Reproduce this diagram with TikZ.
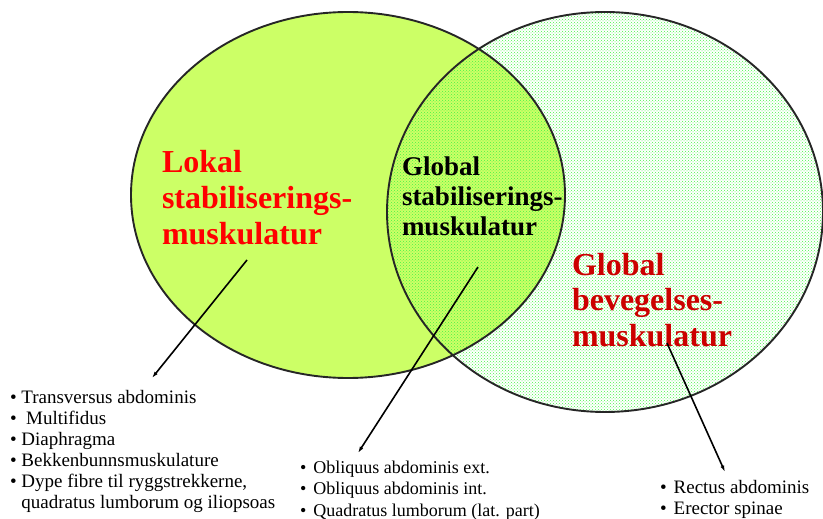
\documentclass[tikz,border=0pt]{standalone}
\usepackage{fontspec}
\setmainfont{Liberation Serif}
\usetikzlibrary{arrows.meta,patterns}

\definecolor{lokalgreen}{RGB}{204,255,102}
\definecolor{dotgreen}{RGB}{70,245,70}
\definecolor{bevred}{RGB}{204,0,0}

\begin{document}
\begin{tikzpicture}[x=1pt, y=-1pt]
\tikzset{ >={Latex[length=6.5pt,width=4pt]}, inner sep=0pt, outer sep=0pt,
  ring/.style={line width=1.9pt, draw=black!85},
  pointer/.style={->, line width=1.6pt},
  head/.style={align=left, anchor=north west, font=\bfseries},
  items/.style={align=left, anchor=north west},
}

\useasboundingbox (0,0) rectangle (823,519);
%\draw [lightgray, dashed] (0,0) grid [step=50] (823,519);

% the two muscle groups
\fill [lokalgreen] (348,195) ellipse [x radius=217, y radius=183];
\fill [pattern=crosshatch dots, pattern color=dotgreen] (605,212) ellipse [x radius=218, y radius=200];
\draw [ring] (348,195) ellipse [x radius=217, y radius=183];
\draw [ring] (605,212) ellipse [x radius=218, y radius=200];

\node [head, red, font=\fontsize{32}{36}\selectfont\bfseries] (lokal) at (162,150)
  {Lokal\\stabiliserings-\\muskulatur};
\node [head, black, font=\fontsize{27}{30}\selectfont\bfseries] (globstab) at (402,157)
  {Global\\stabiliserings-\\muskulatur};
\node [head, bevred, font=\fontsize{32}{35.5}\selectfont\bfseries] (globbev) at (572,253)
  {Global\\bevegelses-\\muskulatur};

% lists of muscles
\node [items, font=\fontsize{19}{21}\selectfont] (lokallist) at (10,390)
  {\textbullet\ Transversus abdominis\\
   \textbullet\ \ Multifidus\\
   \textbullet\ Diaphragma\\
   \textbullet\ Bekkenbunnsmuskulature\\
   \textbullet\ Dype fibre til ryggstrekkerne,\\
   \phantom{\textbullet\ }quadratus lumborum og iliopsoas};
\node [items, font=\fontsize{18}{21.5}\selectfont] (globlist) at (300,461)
  {\textbullet\hspace{7pt}Obliquus abdominis ext.\\
   \textbullet\hspace{7pt}Obliquus abdominis int.\\
   \textbullet\hspace{7pt}Quadratus lumborum (lat. part)};
\node [items, font=\fontsize{19}{21.5}\selectfont] (bevlist) at (660,480)
  {\textbullet\hspace{7pt}Rectus abdominis\\
   \textbullet\hspace{7pt}Erector spinae};

\coordinate (lokalpt)  at (247,260);
\coordinate (lokalend) at (152,378);
\coordinate (globpt)   at (478,267);
\coordinate (globend)  at (358,453);
\coordinate (bevpt)    at (667,343);
\coordinate (bevend)   at (725,472);

\draw [pointer] (lokalpt) -- (lokalend);
\draw [pointer] (globpt)  -- (globend);
\draw [pointer] (bevpt)   -- (bevend);

\end{tikzpicture}
\end{document}
